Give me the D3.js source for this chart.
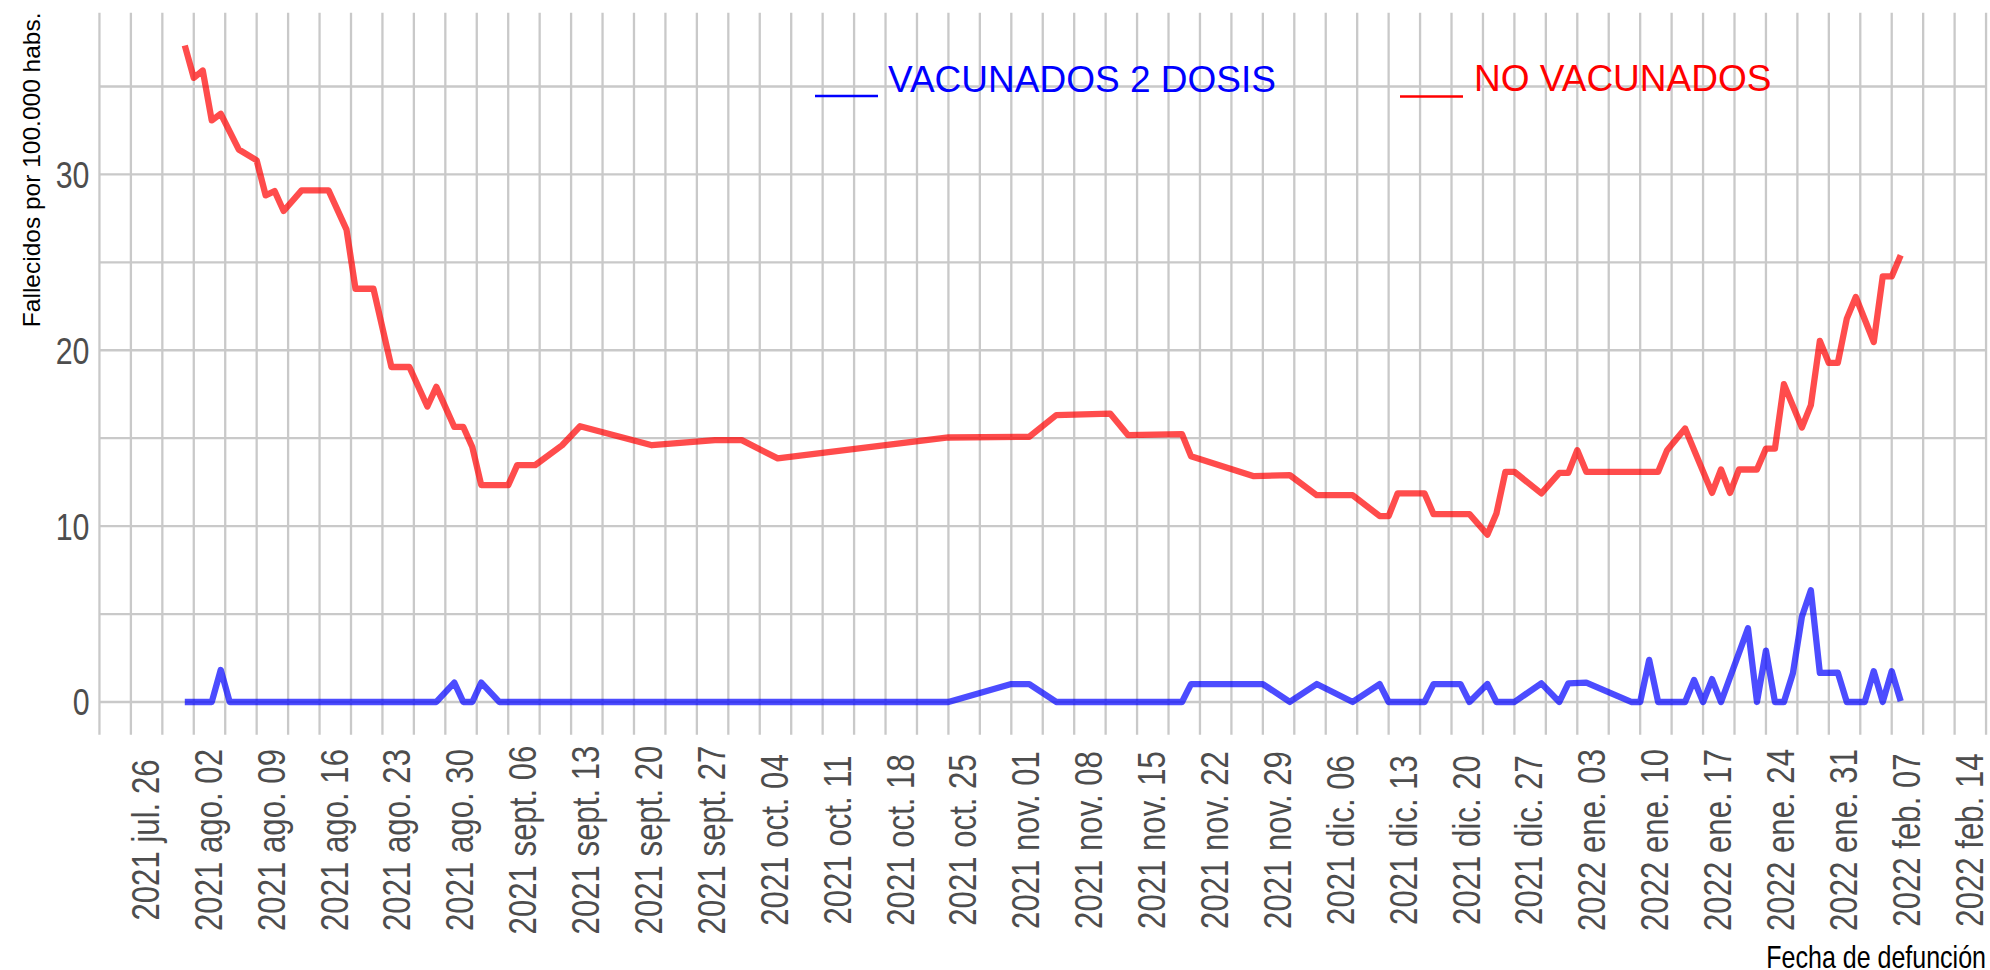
<!DOCTYPE html>
<html>
<head>
<meta charset="utf-8">
<script src="https://cdn.jsdelivr.net/npm/d3@7"></script>
<style>
  html, body { margin: 0; padding: 0; background: #ffffff; }
  svg { display: block; }
</style>
</head>
<body>
<svg id="chart" width="1990" height="970"></svg>
<script>
// Tasa diaria de fallecidos por 100.000 habitantes según estado de vacunación
const fechasNoVacunados = [
  "2021-08-01","2021-08-02","2021-08-03","2021-08-04","2021-08-05","2021-08-07","2021-08-09",
  "2021-08-10","2021-08-11","2021-08-12","2021-08-14","2021-08-17","2021-08-19","2021-08-20",
  "2021-08-22","2021-08-24","2021-08-26","2021-08-28","2021-08-29","2021-08-31","2021-09-01",
  "2021-09-02","2021-09-03","2021-09-06","2021-09-07","2021-09-09","2021-09-12","2021-09-14",
  "2021-09-22","2021-09-29","2021-10-02","2021-10-06","2021-10-25","2021-11-03","2021-11-06",
  "2021-11-12","2021-11-14","2021-11-20","2021-11-21","2021-11-28","2021-12-02","2021-12-05",
  "2021-12-09","2021-12-12","2021-12-13","2021-12-14","2021-12-17","2021-12-18","2021-12-22",
  "2021-12-24","2021-12-25","2021-12-26","2021-12-27","2021-12-30","2022-01-01","2022-01-02",
  "2022-01-03","2022-01-04","2022-01-12","2022-01-13","2022-01-15","2022-01-18","2022-01-19",
  "2022-01-20","2022-01-21","2022-01-23","2022-01-24","2022-01-25","2022-01-26","2022-01-28",
  "2022-01-29","2022-01-30","2022-01-31","2022-02-01","2022-02-02","2022-02-03","2022-02-05",
  "2022-02-06","2022-02-07","2022-02-08"
];
const noVacunados = [
  37.33, 35.49, 35.91, 33.07, 33.45, 31.42, 30.80,
  28.81, 29.05, 27.92, 29.09, 29.09, 26.86, 23.50,
  23.50, 19.05, 19.05, 16.80, 17.92, 15.64, 15.64,
  14.50, 12.33, 12.33, 13.47, 13.47, 14.60, 15.68,
  14.60, 14.89, 14.89, 13.85, 15.04, 15.08, 16.31,
  16.40, 15.17, 15.23, 13.98, 12.84, 12.90, 11.76,
  11.76, 10.57, 10.57, 11.86, 11.86, 10.68, 10.68,
  9.52, 10.72, 13.09, 13.09, 11.86, 13.03, 13.03,
  14.32, 13.09, 13.09, 14.32, 15.55, 11.89, 13.22,
  11.89, 13.22, 13.22, 14.41, 14.41, 18.07, 15.61,
  16.88, 20.53, 19.28, 19.28, 21.80, 23.03, 20.47,
  24.20, 24.20, 25.40
];

const fechasVacunados2Dosis = [
  "2021-08-01","2021-08-04","2021-08-05","2021-08-06","2021-08-29","2021-08-31","2021-09-01",
  "2021-09-02","2021-09-03","2021-09-05","2021-10-25","2021-11-01","2021-11-03","2021-11-06",
  "2021-11-20","2021-11-21","2021-11-29","2021-12-02","2021-12-05","2021-12-09","2021-12-12",
  "2021-12-13","2021-12-17","2021-12-18","2021-12-21","2021-12-22","2021-12-24","2021-12-25",
  "2021-12-27","2021-12-30","2022-01-01","2022-01-02","2022-01-04","2022-01-09","2022-01-10",
  "2022-01-11","2022-01-12","2022-01-15","2022-01-16","2022-01-17","2022-01-18","2022-01-19",
  "2022-01-22","2022-01-23","2022-01-24","2022-01-25","2022-01-26","2022-01-27","2022-01-28",
  "2022-01-29","2022-01-30","2022-02-01","2022-02-02","2022-02-04","2022-02-05","2022-02-06",
  "2022-02-07","2022-02-08"
];
const vacunados2Dosis = [
  0, 0, 1.82, 0, 0, 1.10, 0,
  0, 1.10, 0, 0, 1.02, 1.02, 0,
  0, 1.02, 1.02, 0, 1.02, 0, 1.02,
  0, 0, 1.02, 1.02, 0, 1.02, 0,
  0, 1.06, 0, 1.06, 1.10, 0, 0,
  2.39, 0, 0, 1.25, 0, 1.30, 0,
  4.19, 0, 2.92, 0, 0, 1.63, 4.85,
  6.35, 1.65, 1.67, 0, 0, 1.75, 0,
  1.75, 0.05
];

const seriesNombres = ["VACUNADOS 2 DOSIS", "NO VACUNADOS"];
const seriesColores = ["#0000ff", "#ff0000"];
const mesesAbrev = ["ene.", "feb.", "mar.", "abr.", "may.", "jun.", "jul.", "ago.", "sept.", "oct.", "nov.", "dic."];
const ticksY = [0, 10, 20, 30];
const tituloY = "Fallecidos por 100.000 habs.";
const tituloX = "Fecha de defunción";

// ---- fuentes: usar la versión estrecha si existe, si no comprimir la normal
function fuenteDisponible(nombre) {
  const ctx = document.createElement("canvas").getContext("2d");
  const muestra = "2021 ago. 0123456789 VACUNADOS";
  ctx.font = "40px monospace";
  const a = ctx.measureText(muestra).width;
  ctx.font = `40px "${nombre}", monospace`;
  const b = ctx.measureText(muestra).width;
  return a !== b;
}
const hayEstrecha = fuenteDisponible("Liberation Sans Narrow");
const FAM_NARROW = hayEstrecha ? "'Liberation Sans Narrow', 'Arial Narrow', sans-serif" : "'Liberation Sans', Arial, sans-serif";
const FAM_NORMAL = "'Liberation Sans', Arial, Helvetica, sans-serif";

function estrechar(sel) {
  if (hayEstrecha) return;
  sel.each(function () {
    const w = this.getComputedTextLength();
    d3.select(this).attr("textLength", w * 0.82).attr("lengthAdjust", "spacingAndGlyphs");
  });
}

// ---- geometría del panel
const W = 1990, H = 970;
const panel = { left: 99, right: 1986.5, top: 12.7, bottom: 734.8 };

const parse = d3.timeParse("%Y-%m-%d");
const serieNo = fechasNoVacunados.map((f, i) => ({ fecha: parse(f), valor: noVacunados[i] }));
const serieVac = fechasVacunados2Dosis.map((f, i) => ({ fecha: parse(f), valor: vacunados2Dosis[i] }));
const todas = serieNo.concat(serieVac);

// expansión del 5% en ambos ejes
const [f0, f1] = d3.extent(todas, d => d.fecha);
const padX = (f1 - f0) * 0.05;
const x = d3.scaleTime()
  .domain([new Date(+f0 - padX), new Date(+f1 + padX)])
  .range([panel.left, panel.right]);

const [v0, v1] = d3.extent(todas, d => d.valor);
const padY = (v1 - v0) * 0.05;
const y = d3.scaleLinear()
  .domain([v0 - padY, v1 + padY])
  .range([panel.bottom, panel.top]);

const svg = d3.select("#chart");
svg.append("rect").attr("width", W).attr("height", H).attr("fill", "#ffffff");

// ---- rejilla
const [d0, d1] = x.domain();
const semanas = d3.timeMonday.range(d0, d1);
const mediaSemana = 3.5 * 864e5;
const menores = semanas.map(t => new Date(+t - mediaSemana))
  .concat([new Date(+semanas[semanas.length - 1] + mediaSemana)])
  .filter(t => t >= d0 && t <= d1);

const grid = svg.append("g").attr("stroke", "#c9c9c9").attr("stroke-width", 2.3).attr("fill", "none");
grid.selectAll("line.v")
  .data(semanas.concat(menores))
  .join("line")
  .attr("class", "v")
  .attr("x1", d => x(d)).attr("x2", d => x(d))
  .attr("y1", panel.top).attr("y2", panel.bottom);

const [yMin, yMax] = y.domain();
const lineasY = d3.range(Math.ceil(yMin / 5) * 5, yMax, 5);
grid.selectAll("line.h")
  .data(lineasY)
  .join("line")
  .attr("class", "h")
  .attr("x1", panel.left).attr("x2", panel.right)
  .attr("y1", d => y(d)).attr("y2", d => y(d));

// ---- series
const linea = d3.line().x(d => x(d.fecha)).y(d => y(d.valor));
const series = [serieVac, serieNo];
svg.append("g")
  .selectAll("path")
  .data(series)
  .join("path")
  .attr("d", d => linea(d))
  .attr("fill", "none")
  .attr("stroke", (d, i) => seriesColores[i])
  .attr("stroke-opacity", 0.7)
  .attr("stroke-width", 6.3)
  .attr("stroke-linejoin", "round")
  .attr("stroke-linecap", "butt");

// ---- eje Y
const etiquetasY = svg.append("g")
  .selectAll("text")
  .data(ticksY)
  .join("text")
  .attr("x", panel.left - 9.5)
  .attr("y", d => y(d) + 13.5)
  .attr("text-anchor", "end")
  .attr("font-family", FAM_NARROW)
  .attr("font-size", 37)
  .attr("fill", "#4d4d4d")
  .text(d => d3.format("d")(d));
estrechar(etiquetasY);

svg.append("text")
  .attr("transform", `translate(39.5, 12.5) rotate(-90)`)
  .attr("text-anchor", "end")
  .attr("font-family", FAM_NORMAL)
  .attr("font-size", 24.5)
  .attr("fill", "#000000")
  .text(tituloY);

// ---- eje X
const fmtDia = d3.timeFormat("%d");
const etiquetaFecha = d => `${d.getFullYear()} ${mesesAbrev[d.getMonth()]} ${fmtDia(d)}`;
const etiquetasX = svg.append("g")
  .selectAll("text")
  .data(semanas)
  .join("text")
  .attr("transform", d => `translate(${x(d) + 28}, 840) rotate(-90)`)
  .attr("text-anchor", "middle")
  .attr("font-family", FAM_NARROW)
  .attr("font-size", 38)
  .attr("fill", "#4d4d4d")
  .text(etiquetaFecha);
estrechar(etiquetasX);

const tx = svg.append("text")
  .attr("x", 1986)
  .attr("y", 968)
  .attr("text-anchor", "end")
  .attr("font-family", FAM_NARROW)
  .attr("font-size", 30.5)
  .attr("fill", "#000000")
  .text(tituloX);
estrechar(tx);

// ---- leyenda
const leyenda = [
  { x1: 815, x2: 878, ly: 96, tx: 888, ty: 91.5 },
  { x1: 1400, x2: 1463, ly: 96.5, tx: 1474, ty: 90.5 }
];
const gLeg = svg.append("g");
leyenda.forEach((l, i) => {
  gLeg.append("line")
    .attr("x1", l.x1).attr("x2", l.x2)
    .attr("y1", l.ly).attr("y2", l.ly)
    .attr("stroke", seriesColores[i])
    .attr("stroke-width", 2.6);
  gLeg.append("text")
    .attr("x", l.tx).attr("y", l.ty)
    .attr("font-family", FAM_NORMAL)
    .attr("font-size", 37)
    .attr("fill", seriesColores[i])
    .text(seriesNombres[i]);
});
</script>
</body>
</html>
